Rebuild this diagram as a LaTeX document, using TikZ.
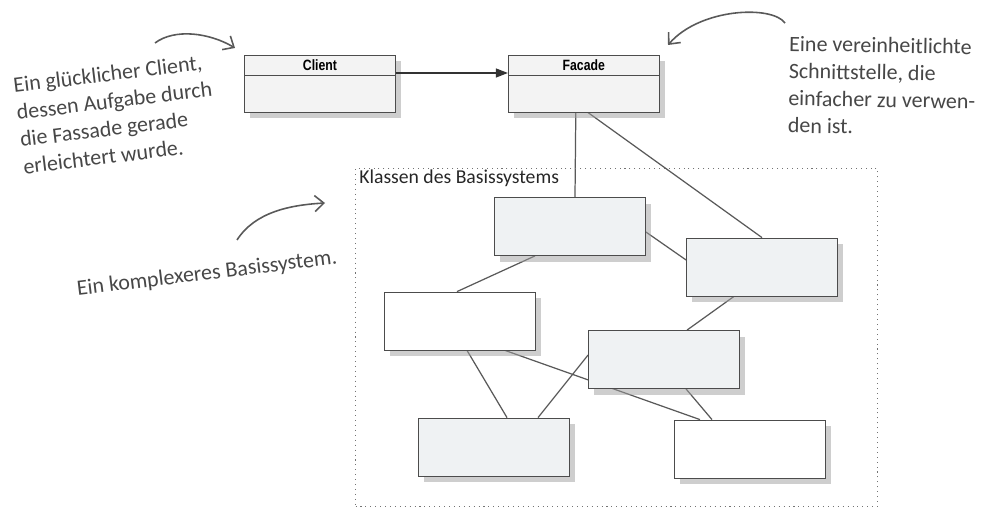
\documentclass[tikz,border=0pt]{standalone}
\usepackage{fontspec}
\setmainfont{Carlito}
\newfontfamily\umlfont[FakeStretch=0.82]{Liberation Sans}
\newfontfamily\handfont{Carlito}
\usetikzlibrary{arrows.meta,positioning,calc,backgrounds,shadows}
\definecolor{boxfill}{HTML}{EFF2F3}
\definecolor{headfill}{HTML}{F3F3F3}

\begin{document}
\begin{tikzpicture}[
            x=0.2mm, y=-0.2mm,
            cls/.style={draw=black!70, line width=0.45pt, fill=headfill, minimum width=30.2mm, minimum height=11.4mm, inner sep=0pt,
                drop shadow={shadow xshift=3.3pt, shadow yshift=-3.6pt, fill=black!38}},
            clshead/.style={minimum width=30.2mm, minimum height=4mm, inner sep=0pt, font=\umlfont\bfseries\fontsize{8.5}{9}\selectfont},
            part/.style={cls, fill=#1, minimum height=11.6mm},
            part/.default=boxfill,
            subsys/.style={draw=black!55, line width=0.6pt, dash pattern=on 0.6pt off 2.2pt, inner sep=0pt},
            link/.style={draw=black!65, line width=0.7pt},
            assoc/.style={draw=black!80, line width=0.7pt, -{Triangle[length=2.4mm, width=1.8mm]}},
            note/.style={font=\handfont\fontsize{12.5}{15.5}\selectfont, text=black!72, align=left, inner sep=0pt},
            hand/.style={draw=black!65, line width=0.9pt, -{Straight Barb[length=1.8mm, width=3.2mm]}}
        ]
            \useasboundingbox (0,0) rectangle (1000,525);

            \node[cls] (client) at (320,83.5) {};
            \node[cls, right=22.4mm of client] (facade) {};
            \node[clshead, anchor=north] (clienthd) at (client.north) {Client};
            \node[clshead, anchor=north] (facadehd) at (facade.north) {Facade};
            \draw[link, draw=black!70, line width=0.45pt] (clienthd.south west) -- (clienthd.south east);
            \draw[link, draw=black!70, line width=0.45pt] (facadehd.south west) -- (facadehd.south east);
            \draw[assoc] ($(client.east)+(0,-10.5)$) -- ($(facade.west)+(0,-10.5)$);

            \node[subsys, anchor=north west, minimum width=104.4mm, minimum height=67.6mm] (sub) at (355,168) {};
            \node[anchor=base west, inner sep=0pt, font=\fontsize{11.2}{13}\selectfont, text=black!85] (sublabel) at ($(sub.north west)+(4,16)$) {Klassen des Basissystems};

            \node[part] (b1) at (570,226.5) {};
            \node[part] (b2) at (762,267) {};
            \node[part=white] (b3) at (459.5,321) {};
            \node[part] (b4) at (664,359.5) {};
            \node[part] (b5) at (493.5,447) {};
            \node[part=white] (b6) at (749.5,449) {};

            \begin{scope}[on background layer]
                \draw[link] ($(facade.south)+(-8,0)$) -- ($(b1.north)+(5,0)$);
                \draw[link] ($(facade.south)+(4,0)$) -- (b2.north);
                \draw[link] ($(b1.east)+(0,5.5)$) -- ($(b2.west)+(0,-7)$);
                \draw[link] ($(b1.south)+(-35,0)$) -- ($(b3.north)+(-2.5,0)$);
                \draw[link] ($(b2.south)+(-28,0)$) -- ($(b4.north)+(23,0)$);
                \draw[link] ($(b3.south)+(7.5,0)$) -- ($(b5.north)+(13.5,0)$);
                \draw[link] ($(b3.south)+(45.5,0)$) -- ($(b6.north)+(-49.5,0)$);
                \draw[link] ($(b4.west)+(0,-4.5)$) -- ($(b5.north)+(44.5,0)$);
                \draw[link] ($(b4.south)+(22,0)$) -- ($(b6.north)+(-37.5,0)$);
            \end{scope}

            \node[note, rotate=7] (clientnote) at (116,114) {Ein glücklicher Client,\\dessen Aufgabe durch\\die Fassade gerade\\erleichtert wurde.};
            \node[note, rotate=-1] (facadenote) at (882,86) {Eine vereinheitlichte\\Schnittstelle, die\\einfacher zu verwen-\\den ist.};
            \node[note, rotate=7] (subnote) at (207,274) {Ein komplexeres Basissystem.};

            \coordinate (cn1) at (155,43);
            \coordinate (cn2) at (235,48);
            \coordinate (fn1) at (785,23);
            \coordinate (fn2) at (668,45);
            \coordinate (sn1) at (237,240);
            \coordinate (sn2) at (325,203);
            \draw[hand] (cn1) .. controls (175,28) and (210,33) .. (cn2);
            \draw[hand] (fn1) .. controls (772,5) and (700,8) .. (fn2);
            \draw[hand] (sn1) .. controls (255,212) and (290,205) .. (sn2);
        \end{tikzpicture}
\end{document}
